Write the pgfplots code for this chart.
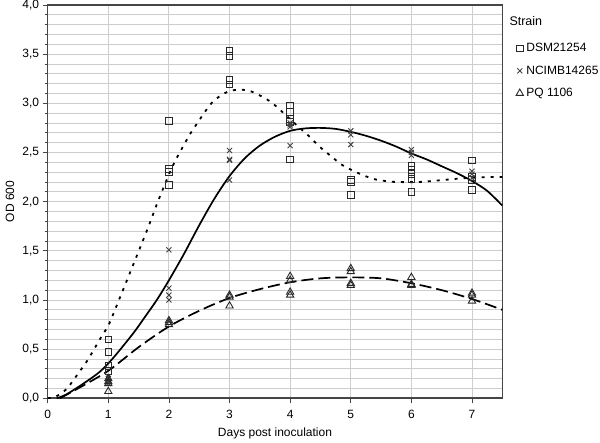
\documentclass[border=0pt]{standalone}
\usepackage{fontspec}
\setmainfont{Liberation Sans}
\usepackage{pgfplots}
\pgfplotsset{compat=1.18}
\definecolor{gridc}{RGB}{205,205,205}
\definecolor{axc}{RGB}{70,70,70}
\definecolor{mk}{RGB}{40,40,40}
\definecolor{xk}{RGB}{65,65,65}
\begin{document}
\begin{tikzpicture}[x=1pt,y=1pt]
\useasboundingbox (-47.7,-44.7) rectangle (552.3,398.3);
\begin{axis}[
  scale only axis, width=454.6pt, height=393.3pt,
  xmin=0, xmax=7.5, ymin=0, ymax=4,
  xtick={0,1,2,3,4,5,6,7},
  ytick={0,0.5,1,1.5,2,2.5,3,3.5,4},
  minor y tick num=4,
  tick pos=left, tick align=outside,
  major tick length=5pt, minor tick length=3pt,
  every tick/.style={axc, line width=0.8pt},
  grid=both,
  major grid style={gridc, line width=0.9pt},
  minor grid style={gridc, line width=0.9pt},
  axis line style={axc, line width=1.2pt},
  font=\fontsize{12}{14}\selectfont,
  /pgf/number format/assume math mode=true,
  yticklabel style={/pgf/number format/.cd, fixed, fixed zerofill, precision=1, use comma},
  xticklabel style={yshift=-3pt, /pgf/number format/.cd, fixed, precision=0},
  xlabel={Days post inoculation}, ylabel={OD 600},
  xlabel style={at={(axis description cs:0.5,-0.088)}, anchor=center},
  ylabel style={at={(axis description cs:-0.083,0.5)}, anchor=center},
  extra y ticks={0}, extra y tick labels={},
  extra y tick style={major grid style={axc, line width=2pt}, major tick length=0pt},
  legend style={draw=none, fill=none, at={(1.030,0.905)}, anchor=north west,
    font=\fontsize{12}{14}\selectfont, row sep=10.5pt, inner sep=0pt,
    nodes={inner sep=1pt, anchor=west},
    /tikz/every odd column/.append style={column sep=2pt}},
  legend cell align=left,
  legend image code/.code={\draw[mark repeat=2,mark phase=2] plot coordinates {(0pt,0pt)(5pt,0pt)(10pt,0pt)};},
]
% fitted curves
\addplot[forget plot, black, line width=1.8pt, dash pattern=on 3pt off 6pt, smooth] coordinates {
(0,0)(0.1,0.01)(0.2,0.04)(0.32,0.10)(0.43,0.19)(0.66,0.39)(0.86,0.60)(1.0,0.74)(1.11,0.90)(1.62,1.68)(1.83,2.02)(2.06,2.36)(2.25,2.58)(2.34,2.68)(2.66,2.97)(2.81,3.06)(2.98,3.12)(3.17,3.14)(3.36,3.12)(3.53,3.07)(3.69,3.01)(3.84,2.93)(4.12,2.77)(4.27,2.69)(4.40,2.61)(4.54,2.53)(4.70,2.45)(4.84,2.38)(5.02,2.32)(5.20,2.27)(5.38,2.23)(5.57,2.21)(5.75,2.20)(6.13,2.20)(6.52,2.22)(6.9,2.24)(7.29,2.25)(7.5,2.25)};
\addplot[forget plot, black, line width=1.7pt, smooth] coordinates {
(0.15,0)(0.31,0.04)(0.59,0.15)(0.86,0.27)(1.08,0.41)(1.41,0.66)(1.63,0.85)(1.80,1.0)(2.0,1.2)(2.25,1.47)(2.5,1.76)(2.75,2.03)(3.0,2.26)(3.25,2.44)(3.5,2.57)(3.75,2.66)(4.0,2.72)(4.25,2.745)(4.5,2.75)(4.75,2.74)(5.0,2.71)(5.25,2.67)(5.5,2.62)(5.75,2.56)(6.0,2.49)(6.25,2.43)(6.5,2.36)(6.75,2.29)(7.0,2.21)(7.25,2.11)(7.5,1.96)};
\addplot[forget plot, black, line width=1.7pt, dash pattern=on 12pt off 5pt, smooth] coordinates {
(0.2,0)(0.5,0.1)(1,0.28)(1.5,0.52)(2,0.73)(2.5,0.89)(3,1.02)(3.5,1.11)(4,1.18)(4.5,1.22)(5,1.23)(5.5,1.22)(6,1.17)(6.5,1.10)(7,1.01)(7.5,0.90)};
% data
\addplot[only marks, mark=square, mark size=3.3pt, mark options={mk, line width=0.9pt}] coordinates {
(1,0.60)(1,0.47)(1,0.33)(1,0.28)
(2,2.82)(2,2.33)(2,2.30)(2,2.17)
(3,3.53)(3,3.48)(3,3.24)(3,3.19)
(4,2.98)(4,2.91)(4,2.84)(4,2.81)(4,2.43)
(5,2.22)(5,2.20)(5,2.07)
(6,2.36)(6,2.32)(6,2.28)(6,2.23)(6,2.10)
(7,2.42)(7,2.25)(7,2.22)(7,2.12)};
\addlegendentry{DSM21254}
\addplot[only marks, mark=x, mark size=3.6pt, mark options={xk, line width=0.9pt}] coordinates {
(1,0.22)(1,0.20)(1,0.17)(1,0.15)
(2,1.51)(2,1.12)(2,1.05)(2,1.00)
(3,2.52)(3,2.43)(3,2.42)(3,2.22)
(4,2.80)(4,2.78)(4,2.76)(4,2.57)
(5,2.72)(5,2.68)(5,2.58)
(6,2.53)(6,2.50)(6,2.47)
(7,2.31)(7,2.28)(7,2.24)};
\addlegendentry{NCIMB14265}
\addplot[only marks, mark=triangle, mark size=4.2pt, mark options={mk, line width=0.9pt}] coordinates {
(1,0.20)(1,0.17)(1,0.15)(1,0.07)
(2,0.79)(2,0.77)(2,0.75)
(3,1.05)(3,1.03)(3,0.94)
(4,1.24)(4,1.20)(4,1.08)(4,1.05)
(5,1.32)(5,1.29)(5,1.17)(5,1.15)
(6,1.23)(6,1.16)(6,1.15)
(7,1.07)(7,1.05)(7,0.99)};
\addlegendentry{PQ 1106}
\end{axis}
\node[anchor=west, font=\fontsize{12.5}{14}\selectfont, inner sep=0pt] at (461.6,377.6) {Strain};
\end{tikzpicture}
\end{document}
